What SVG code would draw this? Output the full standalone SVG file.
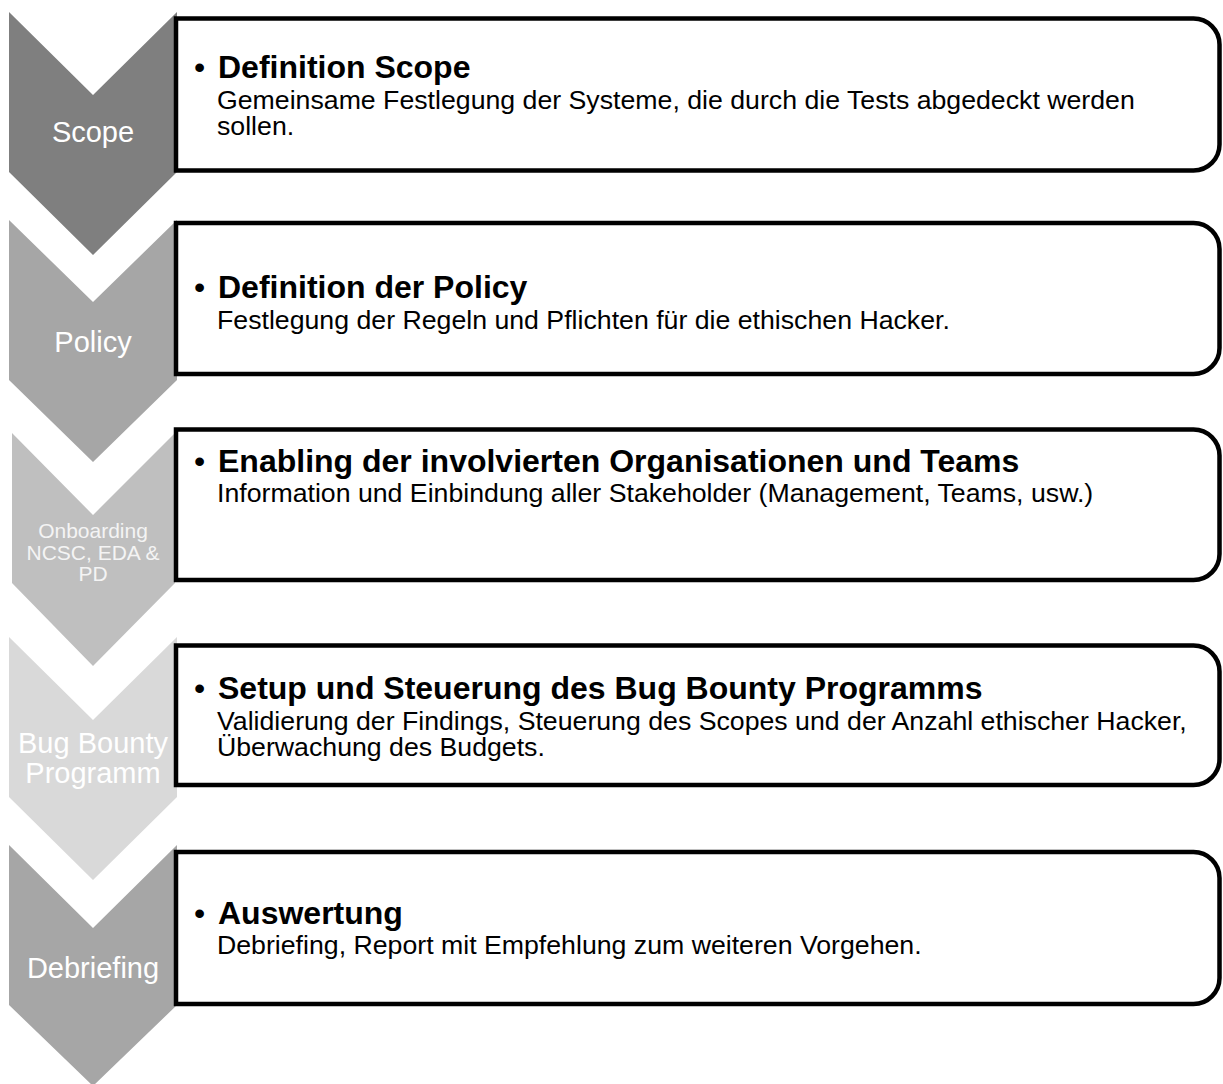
<svg xmlns="http://www.w3.org/2000/svg" width="1223" height="1084" viewBox="0 0 1223 1084">
  <style>
    .chev-label { font-family: "Liberation Sans", Arial, sans-serif; font-size: 29px; fill: #ffffff; text-anchor: middle; }
    .chev-small { font-family: "Liberation Sans", Arial, sans-serif; font-size: 21px; fill: #f4f4f4; text-anchor: middle; }
    .box { fill: #ffffff; stroke: #000000; stroke-width: 4.5; stroke-linejoin: miter; }
    .bullet { font-family: "Liberation Sans", Arial, sans-serif; font-size: 32px; fill: #000000; }
    .title { font-family: "Liberation Sans", Arial, sans-serif; font-size: 32px; font-weight: bold; fill: #000000; }
    .body { font-family: "Liberation Sans", Arial, sans-serif; font-size: 26.7px; fill: #000000; }
  </style>

  <!-- Down-pointing chevrons for each phase -->
  <g id="chevrons">
    <g id="chev-scope">
      <polygon points="9,12 93,95 177,12 177,172 93,255 9,172" fill="#7f7f7f"/>
      <text class="chev-label" x="93" y="142">Scope</text>
    </g>
    <g id="chev-policy">
      <polygon points="9,220 93,302 177,220 177,380 93,462 9,380" fill="#a6a6a6"/>
      <text class="chev-label" x="93" y="352">Policy</text>
    </g>
    <g id="chev-onboarding">
      <polygon points="12,433 93,515 175,433 175,583 93,666 12,583" fill="#bfbfbf"/>
      <text class="chev-small" x="93" y="537.5">Onboarding</text>
      <text class="chev-small" x="93" y="559.5">NCSC, EDA &amp;</text>
      <text class="chev-small" x="93" y="580.5">PD</text>
    </g>
    <g id="chev-bugbounty">
      <polygon points="9,637 93,720 177,637 177,797 93,880 9,797" fill="#d9d9d9"/>
      <text class="chev-label" x="93" y="753">Bug Bounty</text>
      <text class="chev-label" x="93" y="783">Programm</text>
    </g>
    <g id="chev-debriefing">
      <polygon points="9,845 93,928 177,845 177,1005 93,1086 9,1005" fill="#a6a6a6"/>
      <text class="chev-label" x="93" y="978">Debriefing</text>
    </g>
  </g>

  <!-- Description boxes: square left side, rounded right corners -->
  <g id="box-scope">
    <path class="box" d="M176,18.5 H1193.5 A26,26 0 0 1 1219.5,44.5 V144.5 A26,26 0 0 1 1193.5,170.5 H176 Z"/>
    <text class="bullet" x="194" y="78">•</text>
    <text class="title" x="218" y="78">Definition Scope</text>
    <text class="body" x="217" y="109">Gemeinsame Festlegung der Systeme, die durch die Tests abgedeckt werden</text>
    <text class="body" x="217" y="134.5">sollen.</text>
  </g>

  <g id="box-policy">
    <path class="box" d="M176,223 H1193.5 A26,26 0 0 1 1219.5,249 V348 A26,26 0 0 1 1193.5,374 H176 Z"/>
    <text class="bullet" x="194" y="298">•</text>
    <text class="title" x="218" y="298">Definition der Policy</text>
    <text class="body" x="217" y="329">Festlegung der Regeln und Pflichten für die ethischen Hacker.</text>
  </g>

  <g id="box-onboarding">
    <path class="box" d="M176,429.5 H1193.5 A26,26 0 0 1 1219.5,455.5 V554 A26,26 0 0 1 1193.5,580 H176 Z"/>
    <text class="bullet" x="194" y="472">•</text>
    <text class="title" x="218" y="472">Enabling der involvierten Organisationen und Teams</text>
    <text class="body" x="217" y="502">Information und Einbindung aller Stakeholder (Management, Teams, usw.)</text>
  </g>

  <g id="box-bugbounty">
    <path class="box" d="M176,645.5 H1193.5 A26,26 0 0 1 1219.5,671.5 V759 A26,26 0 0 1 1193.5,785 H176 Z"/>
    <text class="bullet" x="194" y="699">•</text>
    <text class="title" x="218" y="699">Setup und Steuerung des Bug Bounty Programms</text>
    <text class="body" x="217" y="730">Validierung der Findings, Steuerung des Scopes und der Anzahl ethischer Hacker,</text>
    <text class="body" x="217" y="755.5">Überwachung des Budgets.</text>
  </g>

  <g id="box-debriefing">
    <path class="box" d="M176,852 H1193.5 A26,26 0 0 1 1219.5,878 V978 A26,26 0 0 1 1193.5,1004 H176 Z"/>
    <text class="bullet" x="194" y="924">•</text>
    <text class="title" x="218" y="924">Auswertung</text>
    <text class="body" x="217" y="954">Debriefing, Report mit Empfehlung zum weiteren Vorgehen.</text>
  </g>

  <!-- No connectors: the chevrons themselves carry the flow -->
  <g id="connectors"/>
</svg>
